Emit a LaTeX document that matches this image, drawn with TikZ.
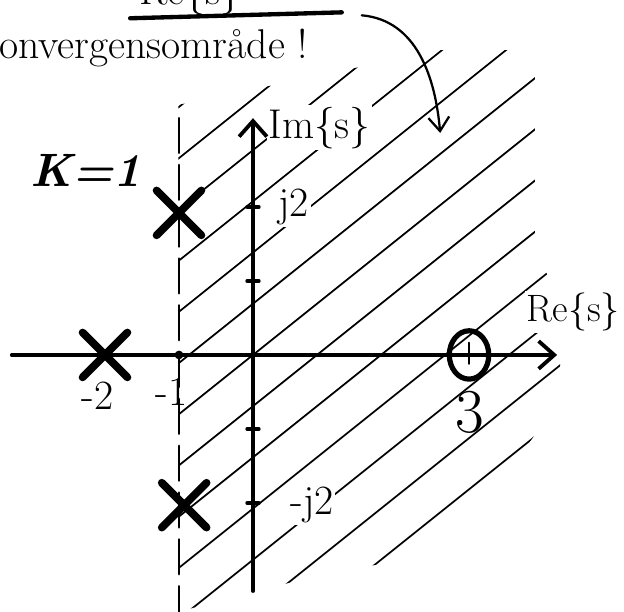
\documentclass[tikz,border=0pt]{standalone}
\usepackage{tikz}
\usetikzlibrary{arrows.meta,positioning,shapes.geometric,shapes.misc}

\tikzset{
  hand/.style={line cap=round, line join=round},
  axisline/.style={hand, line width=2.2pt, -{Straight Barb[length=9pt,width=16pt]}},
  hatchline/.style={hand, line width=1pt},
  pole/.style={cross out, draw, hand, line width=4.5pt, minimum size=0.75cm, inner sep=0pt},
  zero/.style={ellipse, draw, line width=3pt, minimum width=0.8cm, minimum height=0.98cm, inner sep=0pt},
  lbl/.style={font=\fontsize{24}{28}\selectfont, inner sep=1pt},
}

\begin{document}
\begin{tikzpicture}[x=1.5cm, y=1.5cm]
\useasboundingbox (-3.419,-3.473) rectangle (5.014,4.797);

% Hatching: region of convergence
\begin{scope}
\clip (-1.01,3.38) -- (-0.04,3.58) -- (2.53,4.12) -- (3.81,4.12) -- (3.81,1.42)
  -- (4.15,0.74) -- (4.15,-0.61) -- (3.47,-1.55) -- (3.34,-2.36) -- (1.99,-2.77)
  -- (0.64,-3.04) -- (-1.01,-3.47) -- cycle;
\foreach \k in {-6,...,6}
  \draw[hatchline] ({\k*0.865-6},-4.8) -- ({\k*0.865+6},4.8);
\end{scope}

% Dashed boundary at Re{s} = -1
\coordinate (dtop) at (-1,3.2);
\coordinate (dbot) at (-1,-3.5);
\draw[hand, line width=1.6pt, dash pattern=on 20pt off 7pt] (dtop) -- (dbot);

% Labels (white behind them breaks the hatching)
\node[lbl, fill=white] (imlbl) at (0.9,3.07) {Im\{s\}};
\node[lbl, fill=white, font=\fontsize{22}{26}\selectfont] (relbl) at (4.33,0.58) {Re\{s\}};
\node[lbl, fill=white] (j2) at (0.55,2.0) {j2};
\node[lbl, fill=white] (mj2) at (0.8,-2.03) {-j2};
\node[lbl] (m2) at (-2.1,-0.55) {-2};
\node[lbl] (m1) at (-1.1,-0.5) {-1};
\node[lbl, font=\fontsize{36}{40}\selectfont] (three) at (2.93,-0.77) {3};
\node[lbl, font=\fontsize{27}{31}\selectfont\bfseries\itshape] (gain) at (-2.26,2.5) {K=1};

% Draw axes
\coordinate (reL) at (-3.26,0);
\coordinate (reR) at (4.11,0);
\coordinate (imB) at (0,-3.19);
\coordinate (imT) at (0,3.2);
\draw[axisline] (reL) -- (reR);
\draw[axisline] (imB) -- (imT);

% Ticks
\foreach \y in {-2,-1,1,2}
  \draw[hand, line width=2pt] (-0.08,\y) -- (0.08,\y);
\fill (-1,0) circle (2.5pt);

% Poles and zero
\node[pole] (pA) at (-2,0) {};
\node[pole] (pB) at (-1,1.92) {};
\node[pole] (pC) at (-0.93,-2.03) {};
\node[zero] (zA) at (2.92,0) {};
\draw[hand, line width=1.5pt] ([yshift=-5pt]zA.center) -- ([yshift=7pt]zA.center);

% Note at the top
\node[lbl, anchor=east] (roc) at (0.77,4.15) {Konvergensområde !};
\node[lbl] (retop) at (-0.85,4.88) {Re\{s\}};
\coordinate (ulA) at (-1.66,4.55);
\coordinate (ulB) at (1.20,4.63);
\draw[hand, line width=2.5pt] (ulA) -- (ulB);

% Arrow from the note into the region
\coordinate (arrS) at (1.47,4.59);
\coordinate (arrE) at (2.53,3.0);
\draw[hand, line width=1.3pt, -{Straight Barb[length=8pt,width=12pt]}] (arrS) to[out=-5, in=95] (arrE);
\end{tikzpicture}
\end{document}
